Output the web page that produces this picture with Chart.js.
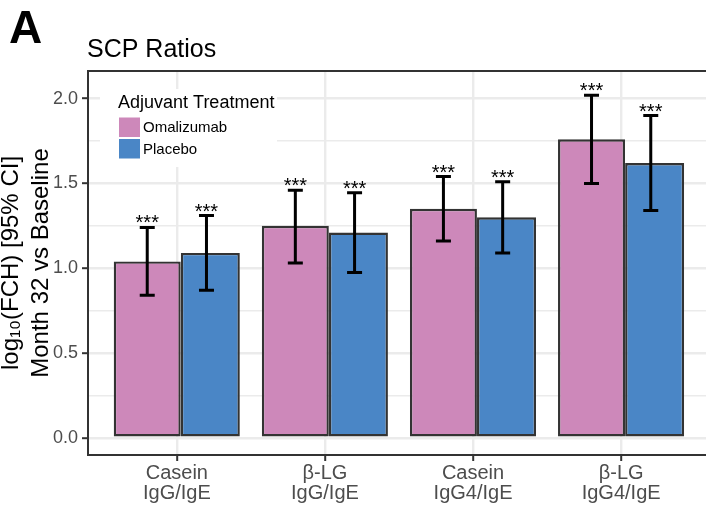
<!DOCTYPE html>
<html>
<head>
<meta charset="utf-8">
<script src="https://cdn.jsdelivr.net/npm/chart.js@4.4.0/dist/chart.umd.min.js"></script>
<style>
  html, body { margin: 0; padding: 0; background: #fff; overflow: hidden; }
  #wrap { width: 706px; height: 507px; overflow: hidden; }
</style>
</head>
<body>
<div id="wrap"><canvas id="scp" width="710" height="507"></canvas></div>
<script>
// values
var categories = [['Casein', 'IgG/IgE'], ['β-LG', 'IgG/IgE'], ['Casein', 'IgG4/IgE'], ['β-LG', 'IgG4/IgE']];
var omalizumab = [1.04, 1.25, 1.35, 1.76];
var omalizumabLow = [0.84, 1.03, 1.16, 1.50];
var omalizumabHigh = [1.24, 1.46, 1.54, 2.02];
var placebo = [1.09, 1.21, 1.30, 1.62];
var placeboLow = [0.87, 0.975, 1.09, 1.34];
var placeboHigh = [1.31, 1.445, 1.51, 1.90];
var omalizumabStars = ['***', '***', '***', '***'];
var placeboStars = ['***', '***', '***', '***'];
var yTickLabels = ['0.0', '0.5', '1.0', '1.5', '2.0'];

var FONT = 'Liberation Sans, Arial, Helvetica, sans-serif';
Chart.defaults.font.family = FONT;

var majorY = yTickLabels.map(Number);
function isMajor(v) { return majorY.indexOf(v) !== -1; }

// white legend box inside the panel (ggplot style)
var insideLegend = {
    id: 'insideLegend',
    beforeDatasetsDraw: function (chart) {
        var ctx = chart.ctx, a = chart.chartArea;
        var x0 = a.left + 12, y0 = a.top + 18;
        ctx.save();
        ctx.fillStyle = '#ffffff';
        ctx.fillRect(x0, y0, 177, 78);
        ctx.fillStyle = '#000000';
        ctx.textBaseline = 'alphabetic';
        ctx.textAlign = 'left';
        ctx.font = '18px ' + FONT;
        ctx.fillText('Adjuvant Treatment', x0 + 18, y0 + 19);
        ctx.font = '15px ' + FONT;
        chart.data.datasets.forEach(function (ds, k) {
            var by = y0 + 28.5 + k * 21.5;
            ctx.fillStyle = ds.backgroundColor;
            ctx.fillRect(x0 + 19, by, 21, 19.5);
            ctx.fillStyle = '#000000';
            ctx.fillText(ds.label, x0 + 43, by + 14.5);
        });
        ctx.restore();
    }
};

// error bars and significance stars
var errorBars = {
    id: 'errorBars',
    afterDatasetsDraw: function (chart) {
        var ctx = chart.ctx, xs = chart.scales.x, ys = chart.scales.y;
        ctx.save();
        ctx.strokeStyle = '#000000';
        ctx.lineWidth = 3;
        ctx.fillStyle = '#000000';
        ctx.font = '20px ' + FONT;
        ctx.textAlign = 'center';
        ctx.textBaseline = 'alphabetic';
        chart.data.datasets.forEach(function (ds) {
            ds.low.forEach(function (lo, i) {
                var x = xs.getPixelForValue(i + ds.errShift);
                var yl = ys.getPixelForValue(lo);
                var yh = ys.getPixelForValue(ds.high[i]);
                ctx.beginPath();
                ctx.moveTo(x, yl); ctx.lineTo(x, yh);
                ctx.moveTo(x - 7.5, yl); ctx.lineTo(x + 7.5, yl);
                ctx.moveTo(x - 7.5, yh); ctx.lineTo(x + 7.5, yh);
                ctx.stroke();
                ctx.fillText(ds.stars[i], x, yh + 2);
            });
        });
        ctx.restore();
    }
};

// panel border, panel letter and title
var frame = {
    id: 'frame',
    afterDraw: function (chart) {
        var ctx = chart.ctx, a = chart.chartArea;
        ctx.save();
        ctx.strokeStyle = '#333333';
        ctx.lineWidth = 2;
        ctx.strokeRect(a.left, a.top, a.right - a.left, a.bottom - a.top);
        ctx.fillStyle = '#000000';
        ctx.textAlign = 'left';
        ctx.textBaseline = 'alphabetic';
        ctx.font = 'bold 46px ' + FONT;
        ctx.fillText('A', 9, 43);
        ctx.font = '25px ' + FONT;
        ctx.fillText('SCP Ratios', a.left - 1, 57);
        ctx.restore();
    }
};

var scp = new Chart(document.getElementById('scp'), {
    type: 'bar',
    data: {
        datasets: [{
            label: 'Omalizumab',
            data: omalizumab.map(function (v, i) { return { x: i - 0.2, y: v }; }),
            low: omalizumabLow,
            high: omalizumabHigh,
            stars: omalizumabStars,
            errShift: -0.2,
            backgroundColor: '#CD88BA',
            borderColor: '#333333',
            borderWidth: 2.4,
            borderSkipped: false,
            grouped: false,
            categoryPercentage: 1,
            barPercentage: 1.062
        }, {
            label: 'Placebo',
            data: placebo.map(function (v, i) { return { x: i + 0.226, y: v }; }),
            low: placeboLow,
            high: placeboHigh,
            stars: placeboStars,
            errShift: 0.2,
            backgroundColor: '#4A86C6',
            borderColor: '#333333',
            borderWidth: 2.4,
            borderSkipped: false,
            grouped: false,
            categoryPercentage: 1,
            barPercentage: 0.935
        }]
    },
    options: {
        responsive: false,
        animation: false,
        devicePixelRatio: 1,
        layout: { padding: { top: 71, left: 0, right: 0, bottom: 0 } },
        plugins: {
            legend: { display: false },
            tooltip: { enabled: false }
        },
        scales: {
            x: {
                type: 'linear',
                min: -0.6,
                max: 3.6,
                offset: false,
                afterFit: function (s) { s.height = 52; },
                afterBuildTicks: function (s) {
                    s.ticks = categories.map(function (c, i) { return { value: i }; });
                },
                ticks: {
                    autoSkip: false,
                    maxRotation: 0,
                    color: '#4D4D4D',
                    padding: 2,
                    font: { size: 20, lineHeight: 1 },
                    callback: function (v) { return categories[v]; }
                },
                grid: { offset: false, color: '#EBEBEB', lineWidth: 2.4, tickColor: '#333333', tickWidth: 2, tickLength: 6 },
                border: { display: false }
            },
            y: {
                min: -0.102,
                max: 2.163,
                afterFit: function (s) { s.width = 88; },
                afterBuildTicks: function (s) {
                    var t = [];
                    majorY.forEach(function (v, i) {
                        t.push({ value: v });
                        if (i < majorY.length - 1) t.push({ value: (v + majorY[i + 1]) / 2 });
                    });
                    s.ticks = t;
                },
                ticks: {
                    color: '#4D4D4D',
                    padding: 4,
                    font: { size: 18 },
                    callback: function (v) {
                        var k = majorY.indexOf(v);
                        return k === -1 ? '' : yTickLabels[k];
                    }
                },
                grid: {
                    color: '#EBEBEB',
                    lineWidth: function (c) { return isMajor(c.tick.value) ? 2.4 : 1.6; },
                    tickColor: function (c) { return isMajor(c.tick.value) ? '#333333' : 'rgba(0,0,0,0)'; },
                    tickWidth: 2,
                    tickLength: 6
                },
                border: { display: false },
                title: {
                    display: true,
                    text: ['log₁₀(FCH) [95% CI]', 'Month 32 vs Baseline'],
                    color: '#000000',
                    font: { size: 24, lineHeight: 1.25 },
                    padding: { top: -4, bottom: 0 }
                }
            }
        }
    },
    plugins: [insideLegend, errorBars, frame]
});
</script>
</body>
</html>
